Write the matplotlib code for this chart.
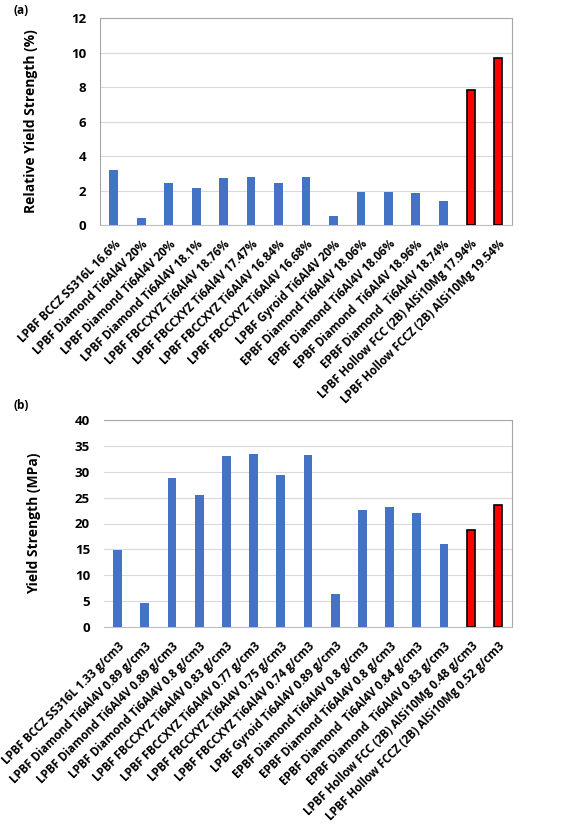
import matplotlib
matplotlib.use('Agg')
import matplotlib.pyplot as plt

plt.rcParams['font.family'] = ['Open Sans', 'DejaVu Sans']
plt.rcParams['font.weight'] = 'bold'

# Data
labels_a = ['LPBF BCCZ SS316L 16.6%', 'LPBF Diamond Ti6Al4V 20%', 'LPBF Diamond Ti6Al4V 20%',
            'LPBF Diamond Ti6Al4V 18.1%', 'LPBF FBCCXYZ Ti6Al4V 18.76%', 'LPBF FBCCXYZ Ti6Al4V 17.47%',
            'LPBF FBCCXYZ Ti6Al4V 16.84%', 'LPBF FBCCXYZ Ti6Al4V 16.68%', 'LPBF Gyroid Ti6Al4V 20%',
            'EPBF Diamond Ti6Al4V 18.06%', 'EPBF Diamond Ti6Al4V 18.06%', 'EPBF Diamond  Ti6Al4V 18.96%',
            'EPBF Diamond  Ti6Al4V 18.74%', 'LPBF Hollow FCC (2B) AlSi10Mg 17.94%',
            'LPBF Hollow FCCZ (2B) AlSi10Mg 19.54%']
rel_yield = [3.17, 0.41, 2.41, 2.14, 2.74, 2.80, 2.45, 2.80, 0.54, 1.89, 1.93, 1.85, 1.37, 7.82, 9.71]

labels_b = ['LPBF BCCZ SS316L 1.33 g/cm3', 'LPBF Diamond Ti6Al4V 0.89 g/cm3',
            'LPBF Diamond Ti6Al4V 0.89 g/cm3', 'LPBF Diamond Ti6Al4V 0.8 g/cm3',
            'LPBF FBCCXYZ Ti6Al4V 0.83 g/cm3', 'LPBF FBCCXYZ Ti6Al4V 0.77 g/cm3',
            'LPBF FBCCXYZ Ti6Al4V 0.75 g/cm3', 'LPBF FBCCXYZ Ti6Al4V 0.74 g/cm3',
            'LPBF Gyroid Ti6Al4V 0.89 g/cm3', 'EPBF Diamond Ti6Al4V 0.8 g/cm3',
            'EPBF Diamond Ti6Al4V 0.8 g/cm3', 'EPBF Diamond  Ti6Al4V 0.84 g/cm3',
            'EPBF Diamond  Ti6Al4V 0.83 g/cm3', 'LPBF Hollow FCC (2B) AlSi10Mg 0.48 g/cm3',
            'LPBF Hollow FCCZ (2B) AlSi10Mg 0.52 g/cm3']
yield_mpa = [14.96, 4.64, 28.8, 25.5, 33.1, 33.4, 29.3, 33.2, 6.4, 22.6, 23.1, 22.0, 16.05, 18.8, 23.5]

# last two bars highlighted in red
highlight = [False] * 13 + [True, True]

W, H = 567, 831
fig = plt.figure(figsize=(W / 100, H / 100), dpi=100)


def draw(ax, labels, values, ylim, yticks, ylabel):
    x = list(range(len(values)))
    for i, v in enumerate(values):
        if highlight[i]:
            ax.bar(i, v, width=0.3, color='#ff0000', edgecolor='black', linewidth=1.2, zorder=3)
        else:
            ax.bar(i, v, width=0.32, color='#4472c4', zorder=3)
    ax.set_xlim(-0.5, len(values) - 0.5)
    ax.set_ylim(*ylim)
    ax.set_yticks(yticks)
    ax.yaxis.grid(True, color='#d9d9d9', linewidth=0.8, zorder=0)
    ax.set_xticks(x)
    ax.set_xticklabels(labels, rotation=45, ha='right', rotation_mode='anchor', fontsize=8.4)
    ax.tick_params(axis='x', length=0, pad=9)
    ax.tick_params(axis='y', length=0, pad=10, labelsize=9.5)
    for lab in ax.get_yticklabels():
        lab.set_fontweight('bold')
    for s in ax.spines.values():
        s.set_color('#a6a6a6')
        s.set_linewidth(0.8)
    ax.spines['left'].set_visible(False)
    ax.spines['bottom'].set_color('#bfbfbf')
    ax.set_ylabel(ylabel, fontsize=10, fontweight='bold', labelpad=24)


ax1 = fig.add_axes([100 / W, 1 - 225 / H, 412 / W, 207 / H])
draw(ax1, labels_a, rel_yield, (0, 12), range(0, 13, 2), 'Relative Yield Strength (%)')
ax1.spines['left'].set_visible(True)

ax2 = fig.add_axes([104 / W, 1 - 627 / H, 408 / W, 207 / H])
draw(ax2, labels_b, yield_mpa, (0, 40), range(0, 41, 5), 'Yield Strength (MPa)')

fig.text(13 / W, 1 - 10 / H, '(a)', fontsize=8.5, fontweight='bold', va='center')
fig.text(13 / W, 1 - 405 / H, '(b)', fontsize=8.5, fontweight='bold', va='center')

fig.savefig('out.png', dpi=100, facecolor='white')
